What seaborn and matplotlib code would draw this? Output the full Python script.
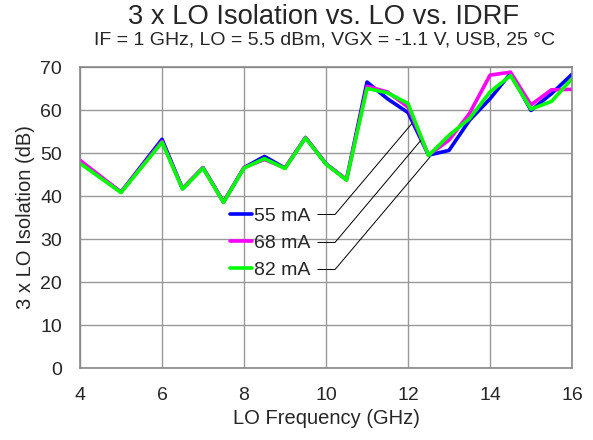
import matplotlib
matplotlib.use('Agg')
import numpy as np
import pandas as pd
import matplotlib.pyplot as plt
import seaborn as sns

# LO frequency (GHz) and 3 x LO isolation (dB) for each IDRF setting
freq = [4, 5, 6, 6.5, 7, 7.5, 8, 8.5, 9, 9.5, 10, 10.5, 11, 11.5, 12, 12.5,
        13, 13.5, 14, 14.5, 15, 15.5, 16]
iso_55 = [47.9, 40.9, 53.2, 41.7, 46.6, 38.6, 46.6, 49.2, 46.5, 53.6, 47.5, 43.8,
          66.5, 62.6, 59.4, 49.5, 50.6, 57.6, 62.6, 68.5, 59.9, 63.8, 68.3]
iso_68 = [48.3, 40.9, 52.7, 41.7, 46.6, 38.6, 46.6, 48.5, 46.5, 53.6, 47.5, 43.8,
          65.5, 64.2, 60.7, 49.5, 53.0, 59.2, 68.1, 68.8, 61.2, 64.7, 64.8]
iso_82 = [47.6, 40.8, 52.5, 41.6, 46.5, 38.5, 46.5, 48.7, 46.4, 53.5, 47.4, 43.7,
          65.0, 64.0, 61.5, 49.4, 54.1, 58.0, 64.2, 68.0, 60.2, 62.0, 67.3]
labels = ['55 mA', '68 mA', '82 mA']
colors = ['#0000ff', '#ff00ff', '#00ff00']


def main():
    sns.set_style('white')
    plt.rcParams['font.family'] = ['Liberation Sans', 'DejaVu Sans']

    df = pd.concat([
        pd.DataFrame({'freq': freq, 'iso': v, 'IDRF': lab})
        for v, lab in zip([iso_55, iso_68, iso_82], labels)
    ])

    fig = plt.figure(figsize=(5.93, 4.40), dpi=100)
    ax = fig.add_axes([80 / 593, 72 / 440, 492 / 593, 301 / 440])

    sns.lineplot(data=df, x='freq', y='iso', hue='IDRF', palette=colors,
                 linewidth=2.6, ax=ax, legend=False)

    ax.set_xlim(4, 16)
    ax.set_ylim(0, 70)
    ax.set_xticks(np.arange(4, 17, 2))
    ax.set_yticks(np.arange(0, 71, 10))
    ax.grid(True, color='#999999', linewidth=1.0)
    for s in ax.spines.values():
        s.set_color('#888888')
        s.set_linewidth(1.2)
    ax.tick_params(length=0, labelsize=14)
    ax.tick_params(axis='x', pad=14)
    ax.tick_params(axis='y', pad=13)
    ax.set_xlabel('LO Frequency (GHz)', fontsize=14.5, labelpad=3)
    ax.set_ylabel('3 x LO Isolation (dB)', fontsize=14.5, labelpad=4)

    # legend with leader lines pointing at the traces
    handles = [plt.Line2D([], [], color=c, linewidth=2.6) for c in colors]
    ax.legend(handles, labels, loc='upper left', bbox_to_anchor=(0.305, 0.533),
              frameon=False, fontsize=14, handlelength=1.15, handletextpad=0.08,
              labelspacing=0.48, borderpad=0, borderaxespad=0)
    leaders = [((9.8, 35.7), (10.22, 35.7), (12.09, 56.8)),
               ((9.8, 29.2), (10.22, 29.2), (12.31, 52.9)),
               ((9.8, 22.9), (10.22, 22.9), (12.54, 49.1))]
    for pts in leaders:
        xs, ys = zip(*pts)
        ax.plot(xs, ys, color='black', linewidth=0.7)

    fig.text(324 / 593, 1 - 17 / 440, '3 x LO Isolation vs. LO vs. IDRF',
             ha='center', va='center', fontsize=19.7)
    fig.text(324 / 593, 1 - 40 / 440,
             'IF = 1 GHz, LO = 5.5 dBm, VGX = -1.1 V, USB, 25 \u00b0C',
             ha='center', va='center', fontsize=14)

    plt.savefig('out.png', dpi=100)


if __name__ == '__main__':
    main()
